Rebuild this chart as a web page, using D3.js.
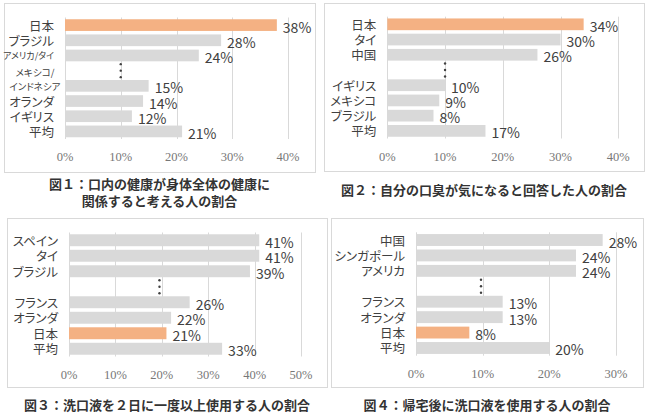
<!DOCTYPE html>
<html><head><meta charset="utf-8">
<script src="https://cdn.jsdelivr.net/npm/d3@7"></script>
<style>
body{margin:0;background:#fff}
svg{display:block}
.jp{font-family:"Noto Sans CJK JP","Noto Sans",sans-serif;font-feature-settings:"palt";}
.cap{font-family:"Noto Sans CJK JP","Noto Sans",sans-serif;}
.tk{font-family:"Liberation Serif",serif;font-size:12.5px;fill:#777777;}
</style>
</head><body>
<svg id="chart" width="650" height="414"></svg>
<script>
// ---- data ----
const highlightCategory = "日本";
const gapKey = "…";

const p1Categories = ["日本", "ブラジル", "アメリカ/タイ", "…", "メキシコ/インドネシア", "オランダ", "イギリス", "平均"];
const p1Values = [38, 28, 24, null, 15, 14, 12, 21];
const p1Ticks = [0, 10, 20, 30, 40];
const p1Caption = ["図１：口内の健康が身体全体の健康に", "関係すると考える人の割合"];

const p2Categories = ["日本", "タイ", "中国", "…", "イギリス", "メキシコ", "ブラジル", "平均"];
const p2Values = [34, 30, 26, null, 10, 9, 8, 17];
const p2Ticks = [0, 10, 20, 30, 40];
const p2Caption = ["図２：自分の口臭が気になると回答した人の割合"];

const p3Categories = ["スペイン", "タイ", "ブラジル", "…", "フランス", "オランダ", "日本", "平均"];
const p3Values = [41, 41, 39, null, 26, 22, 21, 33];
const p3Ticks = [0, 10, 20, 30, 40, 50];
const p3Caption = ["図３：洗口液を２日に一度以上使用する人の割合"];

const p4Categories = ["中国", "シンガポール", "アメリカ", "…", "フランス", "オランダ", "日本", "平均"];
const p4Values = [28, 24, 24, null, 13, 13, 8, 20];
const p4Ticks = [0, 10, 20, 30];
const p4Caption = ["図４：帰宅後に洗口液を使用する人の割合"];

// ---- drawing ----
const svg = d3.select("#chart");
const ORANGE = "#F4B183", GRAY = "#D9D9D9", TEXT = "#404040";

function drawPanel(cfg) {
  const g = svg.append("g");
  g.append("rect")
    .attr("x", cfg.box[0] + 0.5).attr("y", cfg.box[1] + 0.5)
    .attr("width", cfg.box[2] - cfg.box[0]).attr("height", cfg.box[3] - cfg.box[1])
    .attr("fill", "#fff").attr("stroke", "#d9d9d9");

  const x = d3.scaleLinear().domain([0, d3.max(cfg.ticks)]).range([cfg.x0, cfg.x1]);
  const y = d3.scaleBand().domain(cfg.categories).range([cfg.yTop, cfg.yBot])
    .paddingInner(0.23).paddingOuter(0.115);
  const rows = cfg.categories.map((c, i) => ({ c, v: cfg.values[i] }));

  // gridlines
  g.append("g").selectAll("line").data(cfg.ticks).join("line")
    .attr("x1", d => Math.round(x(d)) + 0.5).attr("x2", d => Math.round(x(d)) + 0.5)
    .attr("y1", cfg.yTop).attr("y2", cfg.yBot)
    .attr("stroke", "#d9d9d9").attr("stroke-width", 1);

  // bars
  const data = rows.filter(d => d.v != null);
  g.append("g").selectAll("rect").data(data).join("rect")
    .attr("x", x(0)).attr("y", d => y(d.c))
    .attr("width", d => x(d.v) - x(0)).attr("height", y.bandwidth())
    .attr("fill", d => d.c === highlightCategory ? ORANGE : GRAY);

  // value labels
  g.append("g").selectAll("text").data(data).join("text")
    .attr("class", "jp")
    .attr("x", d => x(d.v) + 6).attr("y", d => y(d.c) + y.bandwidth() / 2 + 1.5)
    .attr("dominant-baseline", "central")
    .attr("font-size", 14).attr("fill", TEXT)
    .text(d => d.v + "%");

  // category labels
  const lab = g.append("g");
  rows.filter(d => d.c !== gapKey).forEach(d => {
    const cy = y(d.c) + y.bandwidth() / 2;
    if (d.c.includes("/") && d.c.length > 8) {
      const parts = [d.c.slice(0, d.c.indexOf("/") + 1), d.c.slice(d.c.indexOf("/") + 1)];
      const t = lab.append("text").attr("class", "jp").attr("text-anchor", "middle")
        .attr("font-size", 9.5).attr("fill", TEXT);
      parts.forEach((p, i) => t.append("tspan").attr("x", cfg.x0 - 30)
        .attr("y", cy - 14 + i * 14.5).attr("dominant-baseline", "central").text(p));
    } else {
      lab.append("text").attr("class", "jp").attr("text-anchor", "end")
        .attr("x", cfg.x0 - 11).attr("y", cy).attr("dominant-baseline", "central")
        .attr("font-size", d.c.length > 6 ? 9 : 12.5).attr("fill", TEXT).text(d.c);
    }
  });

  // break dots
  const gy = y(gapKey) + y.bandwidth() / 2;
  g.append("g").selectAll("circle").data([-1, 0, 1]).join("circle")
    .attr("cx", x(cfg.dotAt)).attr("cy", d => gy + d * 6.5).attr("r", 1.2).attr("fill", "#404040");

  // axis tick labels (positions from the x scale's tick values)
  g.append("g").selectAll("text").data(cfg.ticks).join("text")
    .attr("class", "tk")
    .attr("x", d => x(d)).attr("y", cfg.yBot + 18)
    .attr("text-anchor", "middle").attr("dominant-baseline", "central")
    .text(d => d + "%");

  // caption
  const cx = (cfg.box[0] + cfg.box[2]) / 2;
  cfg.caption.forEach((line, i) => {
    g.append("text").attr("class", "cap").attr("x", cx).attr("y", cfg.capY + i * 17)
      .attr("text-anchor", "middle").attr("dominant-baseline", "central")
      .attr("font-size", 13).attr("font-weight", "bold").attr("fill", "#333")
      .text(line);
  });
}

drawPanel({ box: [4, 3, 315, 172], x0: 65, x1: 288, yTop: 17.5, yBot: 139,
  categories: p1Categories, values: p1Values, ticks: p1Ticks, caption: p1Caption, capY: 183, dotAt: 10 });
drawPanel({ box: [324, 3, 644, 171], x0: 387.3, x1: 618.3, yTop: 16.7, yBot: 138.5,
  categories: p2Categories, values: p2Values, ticks: p2Ticks, caption: p2Caption, capY: 189, dotAt: 10 });
drawPanel({ box: [7, 218, 327, 387], x0: 69, x1: 301, yTop: 232.5, yBot: 356.5,
  categories: p3Categories, values: p3Values, ticks: p3Ticks, caption: p3Caption, capY: 404, dotAt: 19.5 });
drawPanel({ box: [331, 218, 643, 387], x0: 416, x1: 616, yTop: 232.3, yBot: 355.7,
  categories: p4Categories, values: p4Values, ticks: p4Ticks, caption: p4Caption, capY: 404, dotAt: 9.75 });
</script>
</body></html>
